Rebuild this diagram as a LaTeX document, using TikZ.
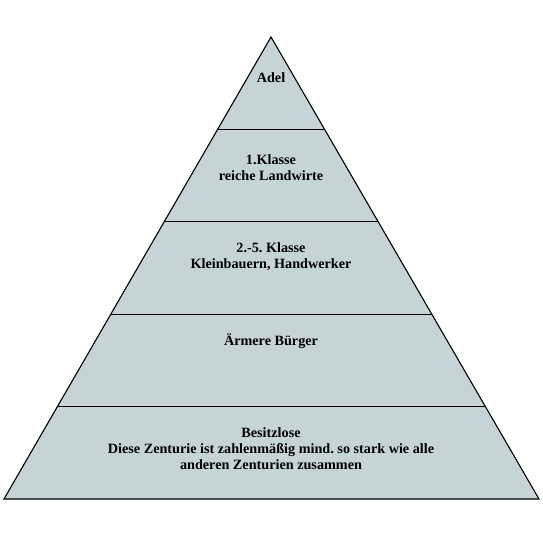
\documentclass[tikz,border=0pt]{standalone}
\usepackage{fontspec}
\setmainfont{Liberation Serif}
\usetikzlibrary{calc, positioning}
\definecolor{pyrfill}{RGB}{198,212,216}
\tikzset{bandtext/.style={font=\bfseries\fontsize{14.2}{16}\selectfont, align=center, inner sep=0pt}}
\frenchspacing

\begin{document}
\begin{tikzpicture}[x=1pt, y=-1pt]
    \useasboundingbox (0,0) rectangle (543,535);

    % The pyramid
    \coordinate (top) at (271,37);
    \coordinate (bl) at (4,499);
    \coordinate (br) at (539,499);
    \fill[pyrfill] (top) -- (bl) -- (br) -- cycle;

    % Level lines
    \foreach \k in {1,...,4}
        \draw[line width=1.1pt] ($(top)!\k/5!(bl)$) -- ($(top)!\k/5!(br)$);
    \draw[line width=1.1pt] (top) -- (bl) -- (br) -- cycle;

    % Labels
    \node[bandtext] (adel) at (271,78) {Adel};
    \node[bandtext] (klasse1) at (271,168) {1.Klasse\\reiche Landwirte};
    \node[bandtext] (klasse25) at (271,257) {2.-5. Klasse\\Kleinbauern, Handwerker};
    \node[bandtext] (buerger) at (271,341) {Ärmere Bürger};
    \node[bandtext] (besitzlos) at (271,449) {Besitzlose\\Diese Zenturie ist zahlenmäßig mind. so stark wie alle\\anderen Zenturien zusammen};
\end{tikzpicture}
\end{document}
